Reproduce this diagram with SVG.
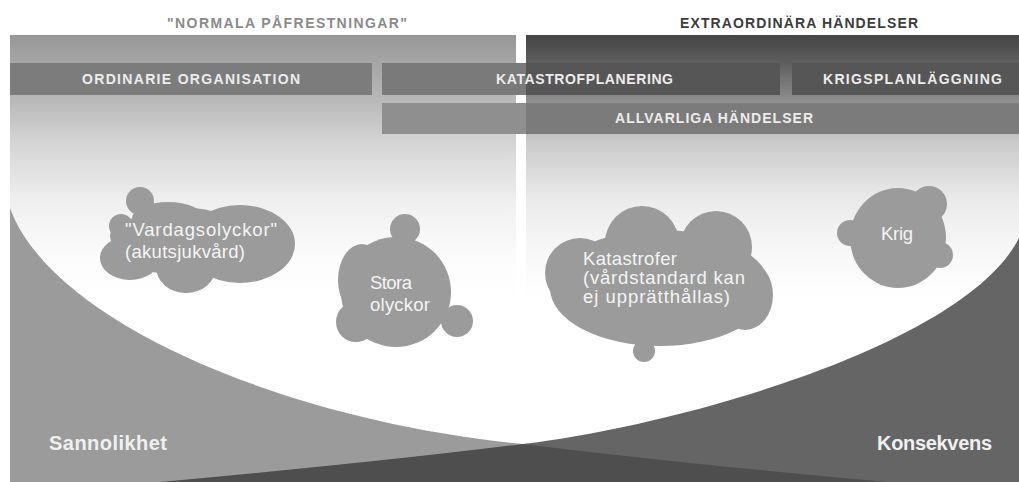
<svg xmlns="http://www.w3.org/2000/svg" width="1019" height="482" viewBox="0 0 1019 482">
<defs>
<linearGradient id="gl" gradientUnits="userSpaceOnUse" x1="0" y1="35" x2="0" y2="300">
<stop offset="0" stop-color="#979797"/>
<stop offset="0.106" stop-color="#a6a6a6"/>
<stop offset="0.245" stop-color="#b8b8b8"/>
<stop offset="0.396" stop-color="#d3d3d3"/>
<stop offset="0.623" stop-color="#efefef"/>
<stop offset="0.85" stop-color="#fcfcfc"/>
<stop offset="1" stop-color="#ffffff"/>
</linearGradient>
<linearGradient id="gr" gradientUnits="userSpaceOnUse" x1="0" y1="35" x2="0" y2="300">
<stop offset="0" stop-color="#454545"/>
<stop offset="0.106" stop-color="#5f5f5f"/>
<stop offset="0.242" stop-color="#8c8c8c"/>
<stop offset="0.396" stop-color="#c9c9c9"/>
<stop offset="0.623" stop-color="#ebebeb"/>
<stop offset="0.85" stop-color="#f9f9f9"/>
<stop offset="1" stop-color="#ffffff"/>
</linearGradient>
</defs>
<style>
.t{font-family:"Liberation Sans",Arial,sans-serif}
.hd{font-size:14px;font-weight:bold;text-anchor:middle}
.bar{font-size:14px;font-weight:bold;fill:#ececec;text-anchor:middle}
.cl{fill:#9b9b9b}
.ct{font-size:18.5px;fill:#f4f4f4}
.ax{font-size:20px;font-weight:bold;fill:#f0f0f0}
</style>
<rect width="1019" height="482" fill="#ffffff"/>
<g id="panels">
<rect x="10" y="35" width="506" height="270" fill="url(#gl)"/>
<rect x="526" y="35" width="493" height="270" fill="url(#gr)"/>
</g>
<g id="titles">
<text class="t hd" x="287" y="28" fill="#8a8a8a" textLength="240" lengthAdjust="spacing">"NORMALA PÅFRESTNINGAR"</text>
<text class="t hd" x="799" y="28" fill="#3c3c3c" textLength="238" lengthAdjust="spacing">EXTRAORDINÄRA HÄNDELSER</text>
</g>
<g id="bar-ordinarie">
<rect x="10" y="63" width="362" height="32" fill="#7c7c7c"/>
<text class="t bar" x="191" y="84" textLength="218" lengthAdjust="spacing">ORDINARIE ORGANISATION</text>
</g>
<g id="bar-katastrof">
<rect x="382" y="63" width="144" height="32" fill="#7a7a7a"/>
<rect x="526" y="63" width="254" height="32" fill="#565656"/>
<text class="t bar" x="584.5" y="84" textLength="177" lengthAdjust="spacing">KATASTROFPLANERING</text>
</g>
<g id="bar-krig">
<rect x="792" y="63" width="227" height="32" fill="#565656"/>
<text class="t bar" x="912.5" y="84" textLength="179" lengthAdjust="spacing">KRIGSPLANLÄGGNING</text>
</g>
<g id="bar-allvarliga">
<rect x="382" y="103" width="144" height="31" fill="#8f8f8f"/>
<rect x="526" y="103" width="493" height="31" fill="#7b7b7b"/>
<text class="t bar" x="714" y="123" textLength="198" lengthAdjust="spacing">ALLVARLIGA HÄNDELSER</text>
</g>
<g id="region-sannolikhet">
<path d="M10,208 C50,320 280,420 523,444 L523,482 L10,482 Z" fill="#9b9b9b"/>
<text class="t ax" x="49" y="450" textLength="118" lengthAdjust="spacing">Sannolikhet</text>
</g>
<g id="region-konsekvens">
<path d="M1019,238 C965,345 680,425 523,444 L523,482 L1019,482 Z" fill="#656565"/>
<text class="t ax" x="877" y="450" textLength="115" lengthAdjust="spacing">Konsekvens</text>
</g>
<g id="region-overlap">
<path d="M160,482 Q380,462 523,444 Q666,462 886,482 Z" fill="#4e4e4e"/>
</g>
<g id="cloud-vardag">
<g class="cl">
<ellipse cx="240" cy="244" rx="55" ry="39"/>
<circle cx="140" cy="201" r="14"/>
<ellipse cx="168" cy="218" rx="36" ry="16"/>
<ellipse cx="190" cy="228" rx="40" ry="20"/>
<circle cx="121" cy="226" r="12"/>
<ellipse cx="140" cy="236" rx="30" ry="18"/>
<ellipse cx="130" cy="258" rx="30" ry="22"/>
<ellipse cx="186" cy="267" rx="30" ry="26"/>
<ellipse cx="165" cy="248" rx="50" ry="25"/>
</g>
<text class="t ct" x="125" y="236" textLength="152" lengthAdjust="spacing">"Vardagsolyckor"</text>
<text class="t ct" x="125" y="258" textLength="120" lengthAdjust="spacing">(akutsjukvård)</text>
</g>
<g id="cloud-stora">
<g class="cl">
<circle cx="405" cy="229" r="15"/>
<ellipse cx="396" cy="292" rx="55" ry="55"/>
<ellipse cx="362" cy="280" rx="24" ry="36"/>
<circle cx="356" cy="322" r="20"/>
<circle cx="457" cy="321" r="16"/>
</g>
<text class="t ct" x="370" y="289" textLength="42" lengthAdjust="spacing">Stora</text>
<text class="t ct" x="370" y="311" textLength="60" lengthAdjust="spacing">olyckor</text>
</g>
<g id="cloud-katastrofer">
<g class="cl">
<ellipse cx="660" cy="288" rx="110" ry="58"/>
<circle cx="642" cy="243" r="37"/>
<circle cx="716" cy="247" r="36"/>
<circle cx="580" cy="273" r="35"/>
<ellipse cx="745" cy="295" rx="28" ry="35"/>
<circle cx="644" cy="351" r="11"/>
</g>
<text class="t ct" x="583" y="265" textLength="94" lengthAdjust="spacing">Katastrofer</text>
<text class="t ct" x="583" y="284" textLength="162" lengthAdjust="spacing">(vårdstandard kan</text>
<text class="t ct" x="583" y="303" textLength="147" lengthAdjust="spacing">ej upprätthållas)</text>
</g>
<g id="cloud-krig">
<g class="cl">
<ellipse cx="898" cy="238" rx="48" ry="50"/>
<circle cx="850" cy="233" r="13"/>
<circle cx="929" cy="204" r="18"/>
<circle cx="940" cy="255" r="13"/>
</g>
<text class="t ct" x="881" y="240" textLength="32" lengthAdjust="spacing">Krig</text>
</g>
</svg>
